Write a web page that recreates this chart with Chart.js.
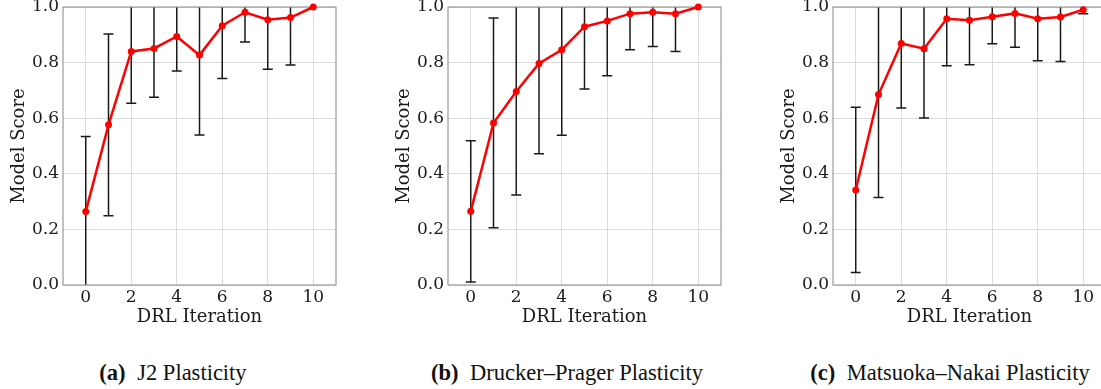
<!DOCTYPE html>
<html>
<head>
<meta charset="utf-8">
<script src="https://cdn.jsdelivr.net/npm/chart.js@4/dist/chart.umd.min.js"></script>
<style>
  html, body { margin: 0; padding: 0; background: #fff; }
  body { width: 1101px; height: 389px; overflow: hidden; position: relative; }
  .panel { position: absolute; top: 0; width: 385px; height: 328px; }
  .cap { position: absolute; top: 360px; font-family: "Liberation Serif", serif; font-size: 22.5px; color: #111; white-space: nowrap; transform: translateX(-50%); line-height: 26px; }
  .cap b { font-weight: bold; margin-right: 6px; }
</style>
</head>
<body>
<div class="panel" style="left:0px"><canvas id="c1" width="385" height="328"></canvas></div>
<div class="panel" style="left:385px"><canvas id="c2" width="385" height="328"></canvas></div>
<div class="panel" style="left:770px"><canvas id="c3" width="385" height="328"></canvas></div>
<div class="cap" style="left:173px"><b>(a)</b> J2 Plasticity</div>
<div class="cap" style="left:567px"><b>(b)</b> Drucker–Prager Plasticity</div>
<div class="cap" style="left:950px"><b>(c)</b> Matsuoka–Nakai Plasticity</div>
<script>
// ---- data ----
const iterations = [0, 1, 2, 3, 4, 5, 6, 7, 8, 9, 10];
const xTickValues = [0, 2, 4, 6, 8, 10];
const yTickValues = [0.0, 0.2, 0.4, 0.6, 0.8, 1.0];

const j2Mean = [0.264, 0.576, 0.840, 0.851, 0.894, 0.827, 0.933, 0.981, 0.954, 0.962, 1.000];
const j2Err  = [0.270, 0.327, 0.186, 0.176, 0.124, 0.287, 0.190, 0.107, 0.178, 0.171, 0.000];

const dpMean = [0.265, 0.583, 0.696, 0.797, 0.846, 0.929, 0.950, 0.976, 0.981, 0.976, 1.000];
const dpErr  = [0.254, 0.377, 0.372, 0.325, 0.307, 0.224, 0.197, 0.130, 0.123, 0.136, 0.000];

const mnMean = [0.342, 0.685, 0.869, 0.850, 0.958, 0.952, 0.965, 0.977, 0.958, 0.964, 0.990];
const mnErr  = [0.297, 0.370, 0.232, 0.249, 0.169, 0.160, 0.097, 0.122, 0.151, 0.160, 0.014];

// ---- plugin: spines + error bars ----
const errorBarPlugin = {
  id: 'errorBars',
  beforeDatasetsDraw(chart) {
    const { ctx, chartArea: a, scales: { x, y } } = chart;
    ctx.save();
    ctx.beginPath();
    ctx.rect(a.left, a.top, a.right - a.left, a.bottom - a.top);
    ctx.clip();
    ctx.strokeStyle = '#1a1a1a';
    ctx.lineWidth = 1.5;
    chart.data.datasets.forEach(ds => {
      (ds.errors || []).forEach((e, i) => {
        if (!e) return;
        const m = ds.data[i].y;
        const px = x.getPixelForValue(ds.data[i].x);
        const yt = y.getPixelForValue(m + e);
        const yb = y.getPixelForValue(m - e);
        ctx.beginPath();
        ctx.moveTo(px, yt); ctx.lineTo(px, yb);
        ctx.moveTo(px - 5, yt); ctx.lineTo(px + 5, yt);
        ctx.moveTo(px - 5, yb); ctx.lineTo(px + 5, yb);
        ctx.stroke();
      });
    });
    ctx.restore();
    ctx.save();
    ctx.strokeStyle = '#9a9a9a';
    ctx.lineWidth = 1.2;
    ctx.strokeRect(a.left, a.top, a.right - a.left, a.bottom - a.top);
    ctx.restore();
  }
};

function makeChart(id, means, errs) {
  const pts = iterations.map((it, i) => ({ x: it, y: means[i] }));
  return new Chart(document.getElementById(id), {
    type: 'line',
    data: {
      datasets: [{
        data: pts,
        errors: errs,
        borderColor: '#ff0000',
        backgroundColor: '#ff0000',
        borderWidth: 2.5,
        pointRadius: 3.5,
        pointBorderWidth: 0,
        tension: 0,
        clip: false
      }]
    },
    options: {
      responsive: false,
      animation: false,
      events: [],
      layout: { padding: { left: 0, right: 49, top: 7, bottom: 0 } },
      plugins: { legend: { display: false }, tooltip: { enabled: false } },
      scales: {
        x: {
          type: 'linear',
          min: -1, max: 11,
          afterBuildTicks: ax => { ax.ticks = xTickValues.map(v => ({ value: v })); },
          afterFit: s => { s.height = 43; s.paddingLeft = 0; s.paddingRight = 0; },
          grid: { color: '#dcdcdc', lineWidth: 1, drawTicks: false },
          border: { display: false },
          ticks: { color: '#1a1a1a', padding: 2, font: { family: 'DejaVu Serif', size: 17 }, maxRotation: 0 },
          title: { display: true, text: 'DRL Iteration', color: '#1a1a1a', font: { family: 'DejaVu Serif', size: 18 }, padding: { top: 0, bottom: 0 } }
        },
        y: {
          min: 0, max: 1,
          afterBuildTicks: ax => { ax.ticks = yTickValues.map(v => ({ value: v })); },
          afterFit: s => { s.width = 63; s.paddingTop = 0; s.paddingBottom = 0; },
          grid: { color: '#dcdcdc', lineWidth: 1, drawTicks: false },
          border: { display: false },
          ticks: { color: '#1a1a1a', padding: 4, font: { family: 'DejaVu Serif', size: 17 }, callback: v => v.toFixed(1) },
          title: { display: true, text: 'Model Score', color: '#1a1a1a', font: { family: 'DejaVu Serif', size: 18 }, padding: { top: 9, bottom: 0 } }
        }
      }
    },
    plugins: [errorBarPlugin]
  });
}

makeChart('c1', j2Mean, j2Err);
makeChart('c2', dpMean, dpErr);
makeChart('c3', mnMean, mnErr);
</script>
</body>
</html>
